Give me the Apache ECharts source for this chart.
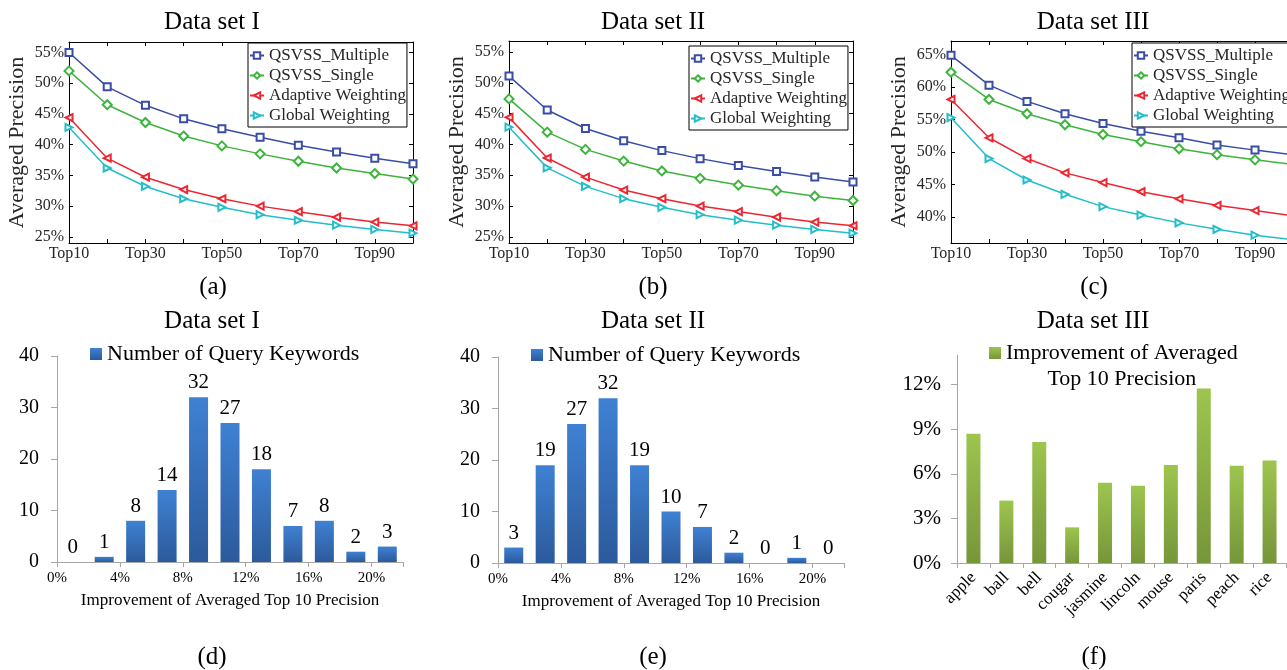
<!DOCTYPE html>
<html>
<head>
<meta charset="utf-8">
<script src="https://cdn.jsdelivr.net/npm/echarts@6/dist/echarts.min.js"></script>
<style>
html,body{margin:0;padding:0;background:#fff;overflow:hidden}
#chart{width:1287px;height:670px}
</style>
</head>
<body>
<div id="chart"></div>
<script>
// ---------- DATA ----------
const topCategories = ['Top10','Top20','Top30','Top40','Top50','Top60','Top70','Top80','Top90','Top100'];
const lineSeriesNames = ['QSVSS_Multiple','QSVSS_Single','Adaptive Weighting','Global Weighting'];

const setI_multiple = [55.0,49.4,46.4,44.2,42.6,41.2,39.9,38.8,37.8,36.9];
const setI_single   = [52.0,46.5,43.6,41.4,39.8,38.5,37.3,36.2,35.3,34.4];
const setI_adaptive = [44.4,37.8,34.7,32.7,31.2,30.0,29.1,28.2,27.4,26.8];
const setI_global   = [42.8,36.2,33.2,31.2,29.8,28.6,27.7,26.9,26.2,25.6];

const setII_multiple = [51.1,45.6,42.6,40.6,39.0,37.7,36.6,35.6,34.7,33.9];
const setII_single   = [47.4,42.0,39.2,37.3,35.7,34.5,33.4,32.5,31.6,30.9];
const setII_adaptive = [44.4,37.8,34.7,32.6,31.2,30.0,29.1,28.2,27.4,26.8];
const setII_global   = [42.8,36.2,33.2,31.2,29.8,28.6,27.7,26.9,26.2,25.6];

const setIII_multiple = [64.9,60.3,57.8,55.9,54.4,53.2,52.2,51.1,50.3,49.6];
const setIII_single   = [62.3,58.1,55.9,54.2,52.7,51.6,50.5,49.6,48.8,48.1];
const setIII_adaptive = [58.1,52.2,49.0,46.8,45.3,43.9,42.8,41.8,41.0,40.2];
const setIII_global   = [55.3,49.0,45.7,43.5,41.6,40.3,39.1,38.1,37.2,36.5];

const yTicksI_II = [25,30,35,40,45,50,55];
const yTicksIII  = [40,45,50,55,60,65];

const histCategories = ['0-2%','2-4%','4-6%','6-8%','8-10%','10-12%','12-14%','14-16%','16-18%','18-20%','20-22%'];
const histTickValues = [0,4,8,12,16,20];
const histCountsI  = [0,1,8,14,32,27,18,7,8,2,3];
const histCountsII = [3,19,27,32,19,10,7,2,0,1,0];

const keywords = ['apple','ball','bell','cougar','jasmine','lincoln','mouse','paris','peach','rice'];
const keywordImprovement = [8.7,4.2,8.15,2.4,5.4,5.2,6.6,11.75,6.55,6.9];
const improvementTicks = [0,3,6,9,12];

// ---------- STYLE ----------
const FONT = "'Liberation Serif','Times New Roman',serif";
const lineColors = ['#3A4DA6','#3DB43D','#EE2632','#23BECA'];
const lineSymbols = ['emptyRect','emptyDiamond','emptyTriangle','emptyTriangle'];
const lineSymbolRot = [0,0,90,-90];
const lineSymbolSize = [7,9,7,7];
const GRAY = '#A6A6A6';
const blueGrad = {type:'linear',x:0,y:0,x2:0,y2:1,colorStops:[{offset:0,color:'#3F81D3'},{offset:1,color:'#2C5A9B'}]};
const greenGrad = {type:'linear',x:0,y:0,x2:0,y2:1,colorStops:[{offset:0,color:'#9DC54E'},{offset:1,color:'#76963A'}]};

const grids = [
  {left:69, top:42, width:344, height:201},
  {left:509, top:41, width:344, height:202},
  {left:951, top:41, width:342, height:202},
  {left:57, top:356, width:346, height:206},
  {left:498, top:357, width:346, height:206},
  {left:957, top:355, width:329, height:208}
].map(g => Object.assign({outerBoundsMode:'none', containLabel:false}, g));

const xAxes = [];
const yAxes = [];
const series = [];

const topSets = [
  {data:[setI_multiple,setI_single,setI_adaptive,setI_global], min:24, max:56.7, ticks:yTicksI_II},
  {data:[setII_multiple,setII_single,setII_adaptive,setII_global], min:24, max:56.8, ticks:yTicksI_II},
  {data:[setIII_multiple,setIII_single,setIII_adaptive,setIII_global], min:36, max:67.1, ticks:yTicksIII}
];

topSets.forEach((s, g) => {
  const blk = {color:'#000', width:1};
  const xb = xAxes.length;
  xAxes.push({type:'category', gridIndex:g, position:'bottom', data:topCategories, boundaryGap:false,
    axisLine:{show:true, onZero:false, lineStyle:blk},
    axisTick:{show:true, inside:true, length:4, interval:0, lineStyle:blk},
    axisLabel:{interval:1, fontSize:16, margin:3, color:'#262626', fontFamily:FONT},
    splitLine:{show:false}});
  xAxes.push({type:'category', gridIndex:g, position:'top', data:topCategories, boundaryGap:false,
    axisLine:{show:true, onZero:false, lineStyle:blk},
    axisTick:{show:true, inside:true, length:4, interval:0, lineStyle:blk},
    axisLabel:{show:false}, splitLine:{show:false}});
  const yl = yAxes.length;
  yAxes.push({type:'value', gridIndex:g, position:'left', min:s.min, max:s.max,
    axisLine:{show:true, onZero:false, lineStyle:blk},
    axisTick:{show:true, inside:true, length:4, customValues:s.ticks, lineStyle:blk},
    axisLabel:{customValues:s.ticks, formatter:v => v + '%', fontSize:16, margin:5, color:'#262626', fontFamily:FONT},
    splitLine:{show:false},
    name:'Averaged Precision', nameLocation:'middle', nameGap:41,
    nameTextStyle:{fontSize:22, color:'#262626', fontFamily:FONT}});
  yAxes.push({type:'value', gridIndex:g, position:'right', min:s.min, max:s.max,
    axisLine:{show:true, onZero:false, lineStyle:blk},
    axisTick:{show:true, inside:true, length:4, customValues:s.ticks, lineStyle:blk},
    axisLabel:{show:false}, splitLine:{show:false}});
  s.data.forEach((vals, i) => {
    series.push({type:'line', name:lineSeriesNames[i], xAxisIndex:xb, yAxisIndex:yl, data:vals,
      symbol:lineSymbols[i], symbolSize:lineSymbolSize[i], symbolRotate:lineSymbolRot[i], showSymbol:true,
      lineStyle:{width:1.5, color:lineColors[i]},
      itemStyle:{color:lineColors[i], borderWidth:1.3}, z:10-i});
  });
});

// Histograms (d), (e)
[[histCountsI,3],[histCountsII,4]].forEach(([counts, g]) => {
  const xc = xAxes.length;
  xAxes.push({type:'category', gridIndex:g, position:'bottom', data:histCategories,
    axisLine:{show:true, lineStyle:{color:GRAY, width:1}},
    axisTick:{show:true, length:5, lineStyle:{color:GRAY}},
    axisLabel:{show:false}, splitLine:{show:false}});
  xAxes.push({type:'value', gridIndex:g, position:'bottom', min:0, max:22,
    axisLine:{show:false}, axisTick:{show:false}, splitLine:{show:false},
    axisLabel:{customValues:histTickValues, formatter:v => v + '%', fontSize:15, margin:9, color:'#000', fontFamily:FONT},
    name:'Improvement of Averaged Top 10 Precision', nameLocation:'middle', nameGap:30,
    nameTextStyle:{fontSize:17, color:'#000', fontFamily:FONT}});
  const yc = yAxes.length;
  yAxes.push({type:'value', gridIndex:g, min:0, max:40, interval:10,
    axisLine:{show:true, lineStyle:{color:GRAY, width:1}},
    axisTick:{show:true, length:6, lineStyle:{color:GRAY}},
    axisLabel:{fontSize:20, margin:18, color:'#000', fontFamily:FONT},
    splitLine:{show:false}});
  series.push({type:'bar', name:'Number of Query Keywords', xAxisIndex:xc, yAxisIndex:yc, data:counts,
    barWidth:19, itemStyle:{color:blueGrad},
    label:{show:true, position:'top', distance:4, fontSize:21, color:'#000', fontFamily:FONT}});
});

// (f)
{
  const xc = xAxes.length;
  xAxes.push({type:'category', gridIndex:5, position:'bottom', data:keywords,
    axisLine:{show:true, lineStyle:{color:GRAY, width:1}},
    axisTick:{show:true, length:5, lineStyle:{color:GRAY}},
    axisLabel:{interval:0, rotate:45, fontSize:17, margin:12, color:'#000', fontFamily:FONT},
    splitLine:{show:false}});
  const yc = yAxes.length;
  yAxes.push({type:'value', gridIndex:5, min:0, max:14,
    axisLine:{show:true, lineStyle:{color:GRAY, width:1}},
    axisTick:{show:true, length:6, customValues:improvementTicks, lineStyle:{color:GRAY}},
    axisLabel:{customValues:improvementTicks, formatter:v => v + '%', fontSize:21, margin:16, color:'#000', fontFamily:FONT},
    splitLine:{show:false}});
  series.push({type:'bar', name:'Improvement of Averaged Top 10 Precision', xAxisIndex:xc, yAxisIndex:yc,
    data:keywordImprovement, barWidth:14, itemStyle:{color:greenGrad}});
}

const lineLegend = (left, top) => ({
  data:lineSeriesNames, orient:'vertical', left, top,
  backgroundColor:'#fff', borderColor:'#000', borderWidth:1, borderRadius:0,
  padding:[4,1,3,1], itemGap:3, itemWidth:14, itemHeight:8,
  textStyle:{fontSize:17, color:'#262626', fontFamily:FONT}
});

const legends = [
  lineLegend(248, 43), lineLegend(689, 46), lineLegend(1132, 43),
  {data:['Number of Query Keywords'], left:90, top:343, padding:0, itemWidth:12, itemHeight:12, icon:'rect',
    textStyle:{fontSize:22, color:'#000', fontFamily:FONT}},
  {data:['Number of Query Keywords'], left:531, top:344, padding:0, itemWidth:12, itemHeight:12, icon:'rect',
    textStyle:{fontSize:22, color:'#000', fontFamily:FONT}},
  {data:['Improvement of Averaged Top 10 Precision'], left:989, top:314, padding:0, itemWidth:12, itemHeight:12, icon:'rect',
    formatter:() => '{a|Improvement of Averaged}\n{b|Top 10 Precision}',
    textStyle:{fontSize:22, color:'#000', fontFamily:FONT, lineHeight:26, padding:[26,0,0,0],
      rich:{a:{fontSize:22, lineHeight:26, fontFamily:FONT, color:'#000'},
            b:{fontSize:22, lineHeight:26, fontFamily:FONT, color:'#000', align:'center'}}}}
];

const titleDefs = [
  ['Data set I',212,22],['Data set II',653,22],['Data set III',1093,22],
  ['(a)',213,287],['(b)',653,287],['(c)',1094,287],
  ['Data set I',212,321],['Data set II',653,321],['Data set III',1093,321],
  ['(d)',212,657],['(e)',653,657],['(f)',1094,657]
];
const titles = titleDefs.map(([t,x,y]) => ({text:t, left:x, top:y, textAlign:'center', textVerticalAlign:'middle', padding:0,
  textStyle:{fontSize:25, fontWeight:'normal', color:'#000', fontFamily:FONT}}));

const chart = echarts.init(document.getElementById('chart'), null, {renderer:'canvas'});
chart.setOption({
  animation:false,
  backgroundColor:'#fff',
  textStyle:{fontFamily:FONT},
  title:titles,
  legend:legends,
  grid:grids,
  xAxis:xAxes,
  yAxis:yAxes,
  series:series
});
</script>
</body>
</html>
